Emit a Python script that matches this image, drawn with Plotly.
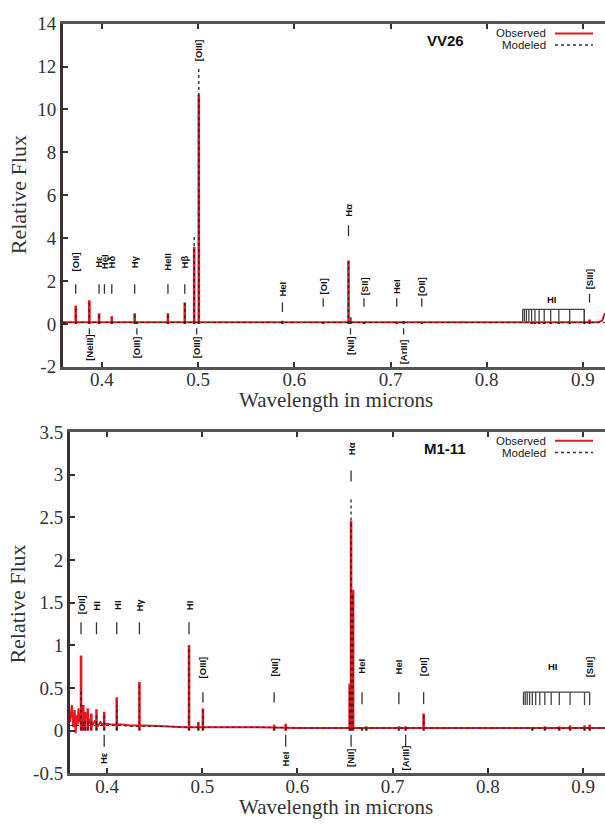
import plotly.graph_objects as go

# ---------------- DATA ----------------
# Panel 1 : VV26  (emission lines: wavelength [micron], observed peak, modeled peak)
vv26_line_wl = [0.3727, 0.3869, 0.3970, 0.4102, 0.4340, 0.4363, 0.4686, 0.4861, 0.4959, 0.5007,
                0.5876, 0.6300, 0.6563, 0.6584, 0.6724, 0.7065, 0.7136, 0.7325,
                0.8467, 0.8502, 0.8545, 0.8598, 0.8665, 0.8750, 0.8863, 0.9015, 0.9069]
vv26_obs_peak = [0.85, 1.10, 0.50, 0.35, 0.50, 0.10, 0.50, 1.00, 3.60, 10.7,
                 0.15, 0.06, 2.95, 0.30, 0.08, 0.10, 0.12, 0.06,
                 0.05, 0.05, 0.06, 0.07, 0.07, 0.08, 0.10, 0.12, 0.20]
vv26_mod_peak = [0.85, 1.05, 0.45, 0.30, 0.50, 0.10, 0.50, 1.00, 4.20, 12.0,
                 0.12, 0.05, 2.90, 0.30, 0.08, 0.08, 0.12, 0.06,
                 0.05, 0.05, 0.06, 0.07, 0.07, 0.08, 0.10, 0.12, 0.20]
vv26_cont_wl = [0.3595, 0.380, 0.420, 0.460, 0.500, 0.560, 0.620, 0.680, 0.740, 0.800, 0.860, 0.900, 0.916, 0.920, 0.923]
vv26_cont_obs = [0.08, 0.08, 0.07, 0.07, 0.07, 0.06, 0.06, 0.06, 0.06, 0.06, 0.06, 0.06, 0.07, 0.15, 0.50]
vv26_cont_mod = [0.07, 0.07, 0.07, 0.06, 0.06, 0.06, 0.06, 0.06, 0.06, 0.06, 0.06, 0.06, 0.06, 0.06, 0.06]

# line identifications (text, wavelength)
vv26_up_text = ["[OII]", "Hε", "HeI", "Hδ", "Hγ", "HeII", "Hβ", "[OIII]", "HeI", "[OI]", "Hα",
                "[SII]", "HeI", "[OII]", "[SIII]"]
vv26_up_wl = [0.3727, 0.3970, 0.4026, 0.4102, 0.4340, 0.4686, 0.4861, 0.5007, 0.5876, 0.6300, 0.6563,
              0.6724, 0.7065, 0.7325, 0.9069]
vv26_dn_text = ["[NeIII]", "[OIII]", "[OIII]", "[NII]", "[ArIII]"]
vv26_dn_wl = [0.3869, 0.4363, 0.4985, 0.6584, 0.7136]
paschen_wl = [0.8374, 0.8392, 0.8413, 0.8438, 0.8467, 0.8502, 0.8545, 0.8598, 0.8665, 0.8750, 0.8863, 0.9015]

# Panel 2 : M1-11
m111_line_wl = [0.3727, 0.3750, 0.3771, 0.3798, 0.3835, 0.3889, 0.3970, 0.4102, 0.4340, 0.4861,
                0.4959, 0.5007, 0.5755, 0.5876, 0.6548, 0.6563, 0.6584, 0.6678, 0.6724,
                0.7065, 0.7136, 0.7325, 0.8467, 0.8598, 0.8750, 0.8863, 0.9015, 0.9069]
m111_obs_peak = [0.88, 0.30, 0.22, 0.26, 0.20, 0.25, 0.22, 0.39, 0.57, 1.00,
                 0.10, 0.26, 0.07, 0.08, 0.55, 2.46, 1.65, 0.04, 0.05,
                 0.05, 0.05, 0.20, 0.04, 0.05, 0.05, 0.06, 0.06, 0.07]
m111_mod_peak = [0.50, 0.12, 0.12, 0.14, 0.12, 0.18, 0.20, 0.30, 0.55, 1.00,
                 0.08, 0.24, 0.06, 0.07, 0.50, 2.72, 1.60, 0.03, 0.04,
                 0.04, 0.04, 0.18, 0.03, 0.04, 0.04, 0.05, 0.05, 0.06]
m111_cont_wl = [0.3611, 0.3630, 0.3645, 0.3660, 0.3670, 0.3680, 0.3690, 0.3700, 0.3712, 0.3740, 0.3760,
                0.3785, 0.3810, 0.3825, 0.3850, 0.3875, 0.3905, 0.3930, 0.3950, 0.4000, 0.4050,
                0.4150, 0.4250, 0.4400, 0.4600, 0.4800, 0.5200, 0.5600, 0.6000, 0.6400, 0.7000,
                0.7600, 0.8200, 0.8600, 0.9000, 0.9230]
m111_cont_obs = [0.10, 0.30, 0.04, 0.24, -0.03, 0.18, 0.06, 0.26, 0.10, 0.16, 0.05,
                 0.20, 0.08, 0.14, 0.06, 0.12, 0.05, 0.10, 0.07, 0.08, 0.07,
                 0.07, 0.06, 0.06, 0.05, 0.04, 0.04, 0.04, 0.03, 0.03, 0.03,
                 0.03, 0.03, 0.03, 0.03, 0.03]
m111_cont_mod = [0.06, 0.06, 0.06, 0.06, 0.06, 0.06, 0.06, 0.06, 0.06, 0.06, 0.06,
                 0.06, 0.06, 0.06, 0.06, 0.06, 0.06, 0.06, 0.06, 0.06, 0.06,
                 0.06, 0.05, 0.05, 0.05, 0.04, 0.04, 0.04, 0.03, 0.03, 0.03,
                 0.03, 0.03, 0.03, 0.03, 0.03]

m111_up_text = ["[OII]", "HI", "HI", "Hγ", "HI", "[OIII]", "[NII]", "Hα", "HeI", "HeI", "[OII]", "[SIII]"]
m111_up_wl = [0.3727, 0.3889, 0.4102, 0.4340, 0.4861, 0.5007, 0.5755, 0.6563, 0.6678, 0.7065, 0.7325, 0.9069]
m111_dn_text = ["Hε", "HeI", "[NII]", "[ArIII]"]
m111_dn_wl = [0.3970, 0.5876, 0.6563, 0.7136]

x_ticks = [0.4, 0.5, 0.6, 0.7, 0.8, 0.9]
vv26_y_ticks = [-2, 0, 2, 4, 6, 8, 10, 12, 14]
m111_y_ticks = [-0.5, 0, 0.5, 1, 1.5, 2, 2.5, 3, 3.5]

# ---------------- placement of identification labels (data units) ----------------
vv26_up_label_y = [2.9, 2.9, 2.9, 2.9, 2.9, 2.9, 2.9, 12.75, 1.62, 1.75, 5.3, 1.75, 1.75, 1.75, 2.1]
vv26_up_tick = [(1.4, 1.85)] * 7 + [None] + [(0.55, 1.0), (0.8, 1.2), (4.1, 4.6),
                                             (0.8, 1.2), (0.8, 1.2), (0.8, 1.2), (1.0, 1.4)]
vv26_dn_label_y = [-1.1, -1.1, -1.1, -1.05, -1.3]
vv26_dn_tick = [(-0.2, -0.5)] * 5
m111_up_label_y = [1.47, 1.47, 1.47, 1.47, 1.47, 0.74, 0.74, 3.3, 0.75, 0.75, 0.75, 0.75]
m111_up_tick = [(1.13, 1.27)] * 5 + [(0.33, 0.45), (0.33, 0.45), (2.92, 3.05),
                                     (0.31, 0.45), (0.31, 0.45), (0.31, 0.45), None]
m111_dn_label_y = [-0.32, -0.33, -0.32, -0.32]
m111_dn_tick = [(-0.05, -0.19)] * 4

RED = "#e8161e"
DARK = "#222222"


def spikes(wl, peak):
    xs, ys = [], []
    for w, p in zip(wl, peak):
        xs += [w, w, None]
        ys += [0, p, None]
    return xs, ys


def segs(wl, ranges):
    xs, ys = [], []
    for w, r in zip(wl, ranges):
        if r is None:
            continue
        xs += [w, w, None]
        ys += [r[0], r[1], None]
    return xs, ys


fig = go.Figure()


def add_panel(xa, ya, wl, obs, mod, cwl, cobs, cmod):
    xs, ys = spikes(wl, obs)
    fig.add_trace(go.Scatter(x=cwl, y=cobs, mode="lines", line=dict(color=RED, width=2),
                             xaxis=xa, yaxis=ya, showlegend=False, hoverinfo="skip"))
    fig.add_trace(go.Scatter(x=xs, y=ys, mode="lines", line=dict(color=RED, width=2.6),
                             xaxis=xa, yaxis=ya, showlegend=False, hoverinfo="skip"))
    xs, ys = spikes(wl, mod)
    fig.add_trace(go.Scatter(x=cwl, y=cmod, mode="lines", line=dict(color=DARK, width=1, dash="dot"),
                             xaxis=xa, yaxis=ya, showlegend=False, hoverinfo="skip"))
    fig.add_trace(go.Scatter(x=xs, y=ys, mode="lines", line=dict(color=DARK, width=1.3, dash="dot"),
                             xaxis=xa, yaxis=ya, showlegend=False, hoverinfo="skip"))


add_panel("x", "y", vv26_line_wl, vv26_obs_peak, vv26_mod_peak, vv26_cont_wl, vv26_cont_obs, vv26_cont_mod)
add_panel("x2", "y2", m111_line_wl, m111_obs_peak, m111_mod_peak, m111_cont_wl, m111_cont_obs, m111_cont_mod)

ann = []


def add_ids(xr, yr, texts, wls, ly, ticks):
    for t, w, y in zip(texts, wls, ly):
        ann.append(dict(x=w, y=y, xref=xr, yref=yr, text="<b>%s</b>" % t, showarrow=False,
                        textangle=-90, font=dict(family="Liberation Sans", size=9.5, color="#111"),
                        xanchor="center", yanchor="middle"))
    xs, ys = segs(wls, ticks)
    fig.add_trace(go.Scatter(x=xs, y=ys, mode="lines", line=dict(color="#333", width=1.3),
                             xaxis=xr, yaxis=yr, showlegend=False, hoverinfo="skip"))


add_ids("x", "y", vv26_up_text, vv26_up_wl, vv26_up_label_y, vv26_up_tick)
add_ids("x", "y", vv26_dn_text, vv26_dn_wl, vv26_dn_label_y, vv26_dn_tick)
add_ids("x2", "y2", m111_up_text, m111_up_wl, m111_up_label_y, m111_up_tick)
add_ids("x2", "y2", m111_dn_text, m111_dn_wl, m111_dn_label_y, m111_dn_tick)


# Paschen (HI) brackets
def paschen(xr, yr, top, bottom, right_end, label_y):
    xs = [paschen_wl[0], right_end, None]
    ys = [top, top, None]
    for w in paschen_wl + [right_end]:
        xs += [w, w, None]
        ys += [top, bottom, None]
    fig.add_trace(go.Scatter(x=xs, y=ys, mode="lines", line=dict(color="#444", width=1.3),
                             xaxis=xr, yaxis=yr, showlegend=False, hoverinfo="skip"))
    ann.append(dict(x=0.868, y=label_y, xref=xr, yref=yr, text="<b>HI</b>", showarrow=False,
                    xanchor="center", yanchor="middle",
                    font=dict(family="Liberation Sans", size=9.5, color="#111")))


paschen("x", "y", 0.68, 0.12, 0.9015, 1.15)
paschen("x2", "y2", 0.45, 0.30, 0.9069, 0.75)

W, H = 605, 832


def px(x):
    return x / W


def py(y):
    return 1 - y / H


serif = "Times New Roman, Liberation Serif, DejaVu Serif, serif"
sans = "Liberation Sans"


def paper_text(x, y, text, font, xanchor="center", angle=0, align="center"):
    ann.append(dict(x=px(x), y=py(y), xref="paper", yref="paper", text=text, showarrow=False,
                    xanchor=xanchor, yanchor="middle", textangle=angle, align=align, font=font))


# Axis titles and panel labels
for yc in (190, 610):
    paper_text(18, yc, "Relative Flux", dict(family=serif, size=22, color="#333"), angle=-90)
for yc in (400, 818):
    paper_text(336, yc, "Wavelength in microns", dict(family=serif, size=21, color="#333"))

shapes = []
for name, ny, oy, my in (("VV26", 31, 24, 36), ("M1-11", 450, 442, 454)):
    paper_text(445, ny, "<b>%s</b>" % name, dict(family=sans, size=15, color="#111"))
    paper_text(548, oy, "Observed", dict(family=sans, size=11.5, color="#222"), xanchor="right")
    paper_text(548, my, "Modeled", dict(family=sans, size=11.5, color="#222"), xanchor="right")
    shapes.append(dict(type="line", xref="paper", yref="paper", x0=px(555), x1=px(593), y0=py(oy), y1=py(oy),
                       line=dict(color=RED, width=2)))
    shapes.append(dict(type="line", xref="paper", yref="paper", x0=px(555), x1=px(593), y0=py(my), y1=py(my),
                       line=dict(color="#333", width=1.5, dash="dot")))

axis_common = dict(showgrid=False, zeroline=False, showline=True, linewidth=3, ticks="inside",
                   ticklen=5, tickwidth=1.5, tickcolor="#333")
tf = dict(family=serif, size=19, color="#333")

fig.update_layout(
    width=W, height=H, margin=dict(l=0, r=0, t=0, b=0),
    paper_bgcolor="white", plot_bgcolor="white", showlegend=False,
    xaxis=dict(domain=[px(63), 1], range=[0.3595, 0.923], tickvals=x_ticks,
               ticktext=[str(v) for v in x_ticks], linecolor="#555", mirror="ticks",
               anchor="y", ticklabelstandoff=-7, tickfont=tf, **axis_common),
    yaxis=dict(domain=[py(366), py(14)], range=[-2, 14], tickvals=vv26_y_ticks,
               ticktext=[str(v) for v in vv26_y_ticks], linecolor="#3b3030", anchor="x",
               tickfont=tf, **axis_common),
    xaxis2=dict(domain=[px(70), 1], range=[0.3611, 0.923], tickvals=x_ticks,
                ticktext=[str(v) for v in x_ticks], linecolor="#555", mirror="ticks",
                anchor="y2", ticklabelstandoff=-6, tickfont=tf, **axis_common),
    yaxis2=dict(domain=[py(783), py(433)], range=[-0.5, 3.5], tickvals=m111_y_ticks,
                ticktext=[str(v) for v in m111_y_ticks], linecolor="#3b3030", anchor="x2",
                tickfont=tf, **axis_common),
    annotations=ann, shapes=shapes,
)

fig.write_html("out.html")
